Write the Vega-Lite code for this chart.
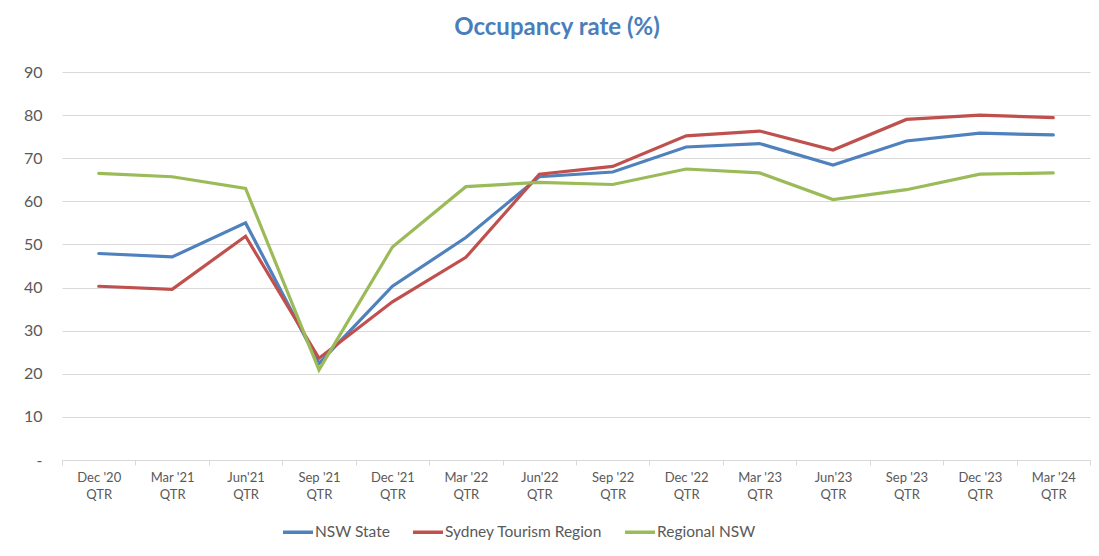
{
  "$schema": "https://vega.github.io/schema/vega-lite/v6.json",
  "width": 1028,
  "height": 388,
  "autosize": {"type": "none"},
  "padding": {"left": 62, "top": 72, "right": 9, "bottom": 96},
  "background": "white",
  "title": {
    "text": "Occupancy rate (%)",
    "font": "Lato",
    "fontSize": 24,
    "fontWeight": "bold",
    "color": "#4A7EBB",
    "anchor": "middle",
    "frame": "group",
    "offset": 24,
    "dx": -19
  },
  "data": {
    "values": [
      {"q": "Dec '20 QTR", "s": "NSW State", "v": 47.9},
      {"q": "Mar '21 QTR", "s": "NSW State", "v": 47.1},
      {"q": "Jun'21 QTR", "s": "NSW State", "v": 55.0},
      {"q": "Sep '21 QTR", "s": "NSW State", "v": 22.4},
      {"q": "Dec '21 QTR", "s": "NSW State", "v": 40.3},
      {"q": "Mar '22 QTR", "s": "NSW State", "v": 51.6},
      {"q": "Jun'22 QTR", "s": "NSW State", "v": 65.7},
      {"q": "Sep '22 QTR", "s": "NSW State", "v": 66.8},
      {"q": "Dec '22 QTR", "s": "NSW State", "v": 72.6},
      {"q": "Mar '23 QTR", "s": "NSW State", "v": 73.4},
      {"q": "Jun'23 QTR", "s": "NSW State", "v": 68.4},
      {"q": "Sep '23 QTR", "s": "NSW State", "v": 74.0},
      {"q": "Dec '23 QTR", "s": "NSW State", "v": 75.8},
      {"q": "Mar '24 QTR", "s": "NSW State", "v": 75.4},
      {"q": "Dec '20 QTR", "s": "Sydney Tourism Region", "v": 40.3},
      {"q": "Mar '21 QTR", "s": "Sydney Tourism Region", "v": 39.6},
      {"q": "Jun'21 QTR", "s": "Sydney Tourism Region", "v": 51.9},
      {"q": "Sep '21 QTR", "s": "Sydney Tourism Region", "v": 23.6},
      {"q": "Dec '21 QTR", "s": "Sydney Tourism Region", "v": 36.7},
      {"q": "Mar '22 QTR", "s": "Sydney Tourism Region", "v": 47.0},
      {"q": "Jun'22 QTR", "s": "Sydney Tourism Region", "v": 66.3},
      {"q": "Sep '22 QTR", "s": "Sydney Tourism Region", "v": 68.1},
      {"q": "Dec '22 QTR", "s": "Sydney Tourism Region", "v": 75.2},
      {"q": "Mar '23 QTR", "s": "Sydney Tourism Region", "v": 76.3},
      {"q": "Jun'23 QTR", "s": "Sydney Tourism Region", "v": 71.9},
      {"q": "Sep '23 QTR", "s": "Sydney Tourism Region", "v": 79.0},
      {"q": "Dec '23 QTR", "s": "Sydney Tourism Region", "v": 80.0},
      {"q": "Mar '24 QTR", "s": "Sydney Tourism Region", "v": 79.4},
      {"q": "Dec '20 QTR", "s": "Regional NSW", "v": 66.5},
      {"q": "Mar '21 QTR", "s": "Regional NSW", "v": 65.7},
      {"q": "Jun'21 QTR", "s": "Regional NSW", "v": 63.0},
      {"q": "Sep '21 QTR", "s": "Regional NSW", "v": 20.9},
      {"q": "Dec '21 QTR", "s": "Regional NSW", "v": 49.4},
      {"q": "Mar '22 QTR", "s": "Regional NSW", "v": 63.4},
      {"q": "Jun'22 QTR", "s": "Regional NSW", "v": 64.4},
      {"q": "Sep '22 QTR", "s": "Regional NSW", "v": 63.9},
      {"q": "Dec '22 QTR", "s": "Regional NSW", "v": 67.5},
      {"q": "Mar '23 QTR", "s": "Regional NSW", "v": 66.6},
      {"q": "Jun'23 QTR", "s": "Regional NSW", "v": 60.4},
      {"q": "Sep '23 QTR", "s": "Regional NSW", "v": 62.7},
      {"q": "Dec '23 QTR", "s": "Regional NSW", "v": 66.3},
      {"q": "Mar '24 QTR", "s": "Regional NSW", "v": 66.6}
    ]
  },
  "mark": {"type": "line", "strokeWidth": 3.2, "strokeJoin": "miter", "strokeCap": "round"},
  "encoding": {
    "x": {
      "field": "q",
      "type": "ordinal",
      "sort": null,
      "scale": {"type": "band", "paddingInner": 0, "paddingOuter": 0},
      "axis": {
        "title": null,
        "labelAngle": 0,
        "labelExpr": "datum.label ? [replace(datum.label, ' QTR', ''), 'QTR'] : ''",
        "labelFont": "Lato",
        "labelFontSize": 13,
        "labelColor": "#595959",
        "labelPadding": 6,
        "labelLineHeight": 17,
        "domainColor": "#D9D9D9",
        "tickColor": "#D9D9D9",
        "tickBand": "extent",
        "tickSize": 5,
        "grid": false
      }
    },
    "y": {
      "field": "v",
      "type": "quantitative",
      "scale": {"domain": [0, 90], "nice": false},
      "axis": {
        "title": null,
        "values": [0, 10, 20, 30, 40, 50, 60, 70, 80, 90],
        "labelExpr": "datum.value == 0 ? '-' : datum.label",
        "labelFont": "Lato",
        "labelFontSize": 16,
        "labelColor": "#595959",
        "labelPadding": 20,
        "domain": false,
        "ticks": false,
        "gridColor": "#D9D9D9",
        "gridWidth": 1
      }
    },
    "color": {
      "field": "s",
      "type": "nominal",
      "scale": {
        "domain": ["NSW State", "Sydney Tourism Region", "Regional NSW"],
        "range": ["#4F81BD", "#C0504D", "#9BBB59"]
      },
      "legend": {
        "title": null,
        "orient": "none",
        "direction": "horizontal",
        "legendX": 219,
        "legendY": 443,
        "symbolType": "stroke",
        "symbolSize": 900,
        "symbolStrokeWidth": 3.5,
        "labelFont": "Lato",
        "labelFontSize": 15.5,
        "labelLimit": 400,
        "labelColor": "#595959",
        "labelOffset": 0,
        "columnPadding": 15
      }
    }
  },
  "config": {
    "view": {"stroke": null},
    "legend": {"symbolLimit": 0}
  }
}
